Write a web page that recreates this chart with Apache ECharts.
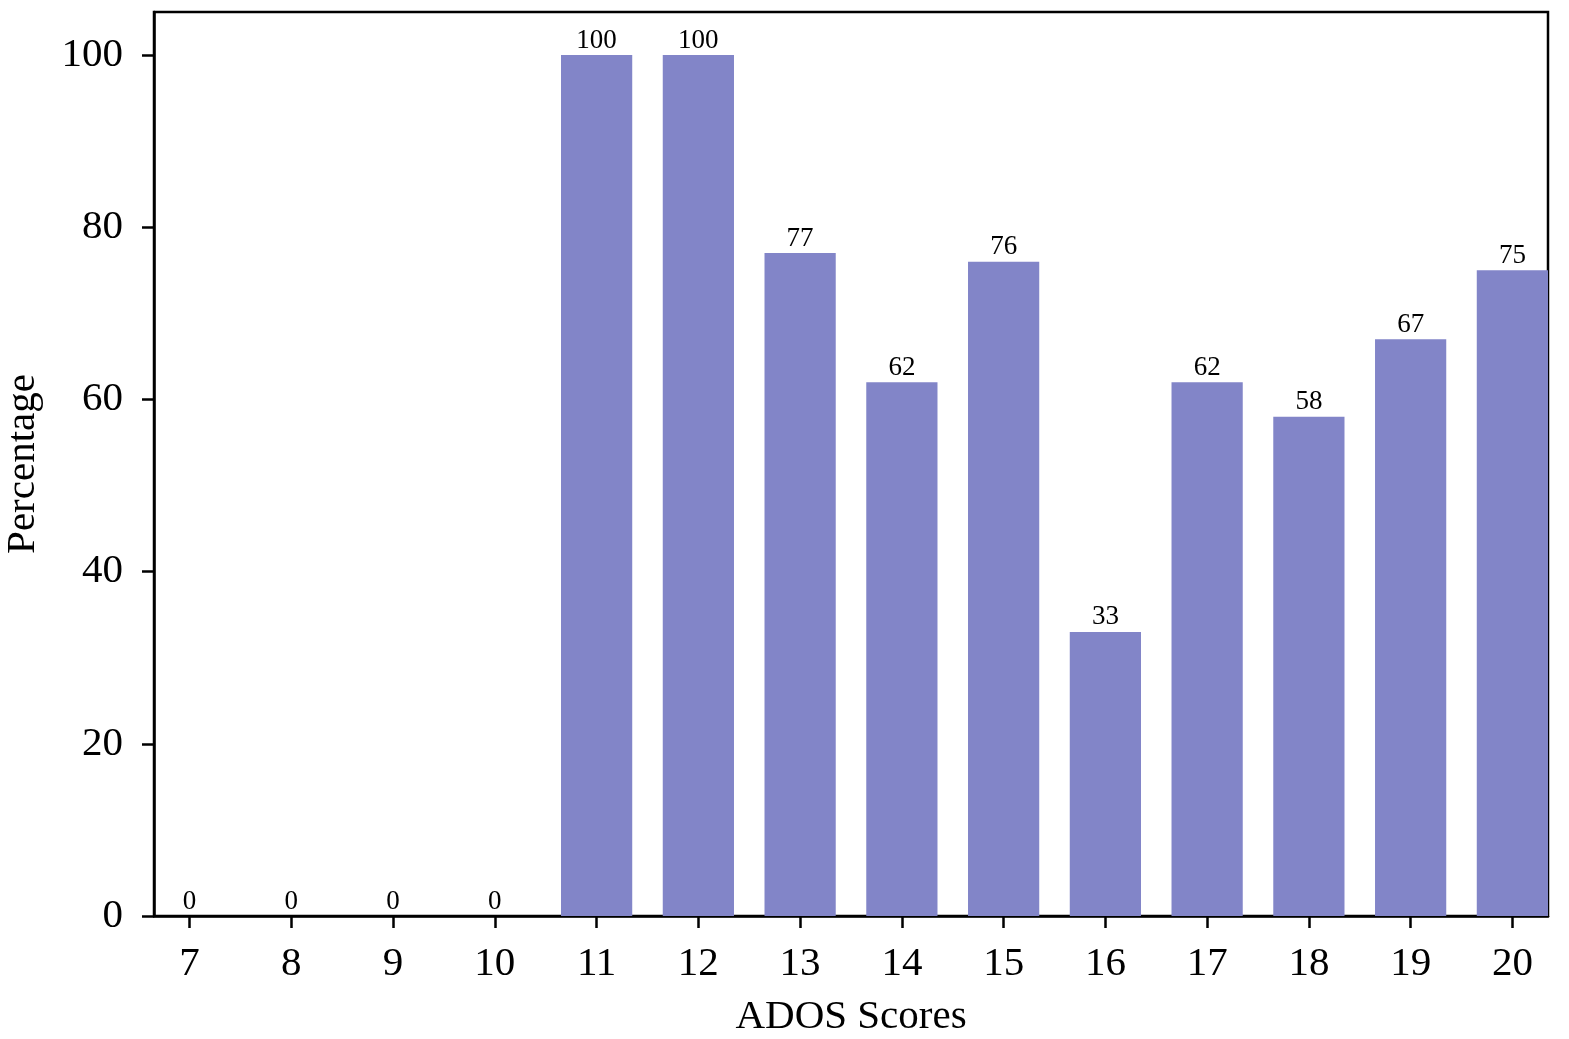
<!DOCTYPE html>
<html>
<head>
<meta charset="utf-8">
<script src="https://cdn.jsdelivr.net/npm/echarts@6/dist/echarts.min.js"></script>
<style>
html,body{margin:0;padding:0;background:#fff;}
#chart{width:1569px;height:1039px;}
</style>
</head>
<body>
<div id="chart"></div>
<script>
const scores = [7, 8, 9, 10, 11, 12, 13, 14, 15, 16, 17, 18, 19, 20];
const percentages = [0, 0, 0, 0, 100, 100, 77, 62, 76, 33, 62, 58, 67, 75];
const yTicks = [0, 20, 40, 60, 80, 100];

const FONT = '"Liberation Serif", "Times New Roman", serif';
const chart = echarts.init(document.getElementById('chart'), null, {renderer: 'canvas'});
const gridLeft = 154, gridRight = 21;
const xMin = 6.65, xMax = 20.35;
const plotW = 1569 - gridLeft - gridRight;
const barW = 0.7 * plotW / (xMax - xMin);

chart.setOption({
  backgroundColor: '#fff',
  animation: false,
  grid: {left: gridLeft, right: gridRight, top: 12, bottom: 123, show: true, borderColor: '#000', borderWidth: 2.5, containLabel: false, outerBoundsMode: 'none'},
  xAxis: {
    type: 'value', min: xMin, max: xMax,
    name: 'ADOS Scores', nameLocation: 'middle', nameGap: 81,
    nameTextStyle: {fontFamily: FONT, fontSize: 41, color: '#000'},
    axisLine: {show: true, onZero: false, lineStyle: {color: '#000', width: 2.5}},
    axisTick: {show: true, length: 12, lineStyle: {color: '#000', width: 2.5}, customValues: scores},
    axisLabel: {fontFamily: FONT, fontSize: 41, color: '#000', margin: 28, customValues: scores},
    splitLine: {show: false}
  },
  yAxis: {
    type: 'value', min: 0, max: 105,
    name: 'Percentage', nameLocation: 'middle', nameGap: 110, nameRotate: 90,
    nameTextStyle: {fontFamily: FONT, fontSize: 41, color: '#000'},
    axisLine: {show: true, lineStyle: {color: '#000', width: 2.5}},
    axisTick: {show: true, length: 12, lineStyle: {color: '#000', width: 2.5}, customValues: yTicks},
    axisLabel: {fontFamily: FONT, fontSize: 41, color: '#000', margin: 31, customValues: yTicks},
    splitLine: {show: false}
  },
  series: [{
    type: 'bar',
    data: scores.map((s, i) => [s, percentages[i]]),
    barWidth: barW,
    itemStyle: {color: '#8285C8'},
    label: {show: true, position: 'top', distance: 1, fontFamily: FONT, fontSize: 27, color: '#000',
      formatter: p => String(p.value[1])}
  }]
});
</script>
</body>
</html>
